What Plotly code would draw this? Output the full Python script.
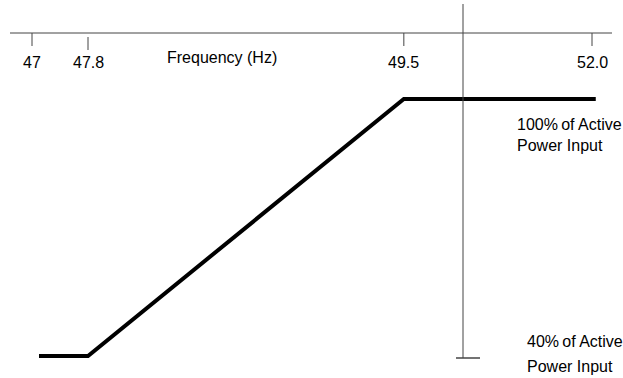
import numpy as np
import plotly.graph_objects as go

# ---- data ----
freq_ticks = [47.0, 47.8, 49.5, 52.0]
tick_labels = ["47", "47.8", "49.5", "52.0"]
line_freq = [47.1, 47.8, 49.5, 52.05]
line_power = [40, 40, 100, 100]
power_levels = [100, 40]
axis_title = "Frequency (Hz)"

# ---- layout constants (schematic, not-to-scale frequency axis) ----
W, H = 623, 378
tick_spots = [0.0, 0.1, 0.664, 1.0]  # schematic placement of the ticks along the axis


def pos(f):
    if f < freq_ticks[0]:
        return tick_spots[0] + (f - freq_ticks[0]) * (tick_spots[1] - tick_spots[0]) / (freq_ticks[1] - freq_ticks[0])
    if f > freq_ticks[-1]:
        return tick_spots[-1] + (f - freq_ticks[-1]) * (tick_spots[-1] - tick_spots[-2]) / (freq_ticks[-1] - freq_ticks[-2])
    return float(np.interp(f, freq_ticks, tick_spots))


def py(p):
    return 1 - p / H


def px(p):
    return p / W


line_x = [pos(f) for f in line_freq]
tick_x = [pos(f) for f in freq_ticks]

font = dict(family="Liberation Sans, Arial, sans-serif", size=16, color="#000")
lab_font = dict(family="Liberation Sans, Arial, sans-serif", size=16, color="#000")
axis_col = "#444"

fig = go.Figure()
fig.add_trace(go.Scatter(x=line_x, y=line_power, mode="lines",
                         line=dict(color="black", width=4), hoverinfo="skip"))

shapes = []
# horizontal frequency axis
shapes.append(dict(type="line", xref="paper", yref="paper", x0=px(10), x1=px(612),
                   y0=py(33), y1=py(33), line=dict(color=axis_col, width=1)))
# ticks
tick_top = [33, 37, 33, 33]
for tx, tt in zip(tick_x, tick_top):
    shapes.append(dict(type="line", xref="x", yref="paper", x0=tx, x1=tx,
                       y0=py(tt), y1=py(tt + 13), line=dict(color=axis_col, width=1)))
# vertical power axis
shapes.append(dict(type="line", xref="paper", yref="paper", x0=px(463), x1=px(463),
                   y0=py(4), y1=py(358), line=dict(color=axis_col, width=1)))
shapes.append(dict(type="line", xref="paper", yref="paper", x0=px(456), x1=px(480),
                   y0=py(358), y1=py(358), line=dict(color=axis_col, width=1.5)))

annotations = []
for tx, lab in zip(tick_x, tick_labels):
    annotations.append(dict(x=tx, y=py(63), xref="x", yref="paper", text=lab,
                            showarrow=False, xanchor="center", yanchor="middle", font=font))
annotations.append(dict(x=px(222), y=py(57), xref="paper", yref="paper", text=axis_title,
                        showarrow=False, xanchor="center", yanchor="middle", font=font))

# level labels
p_hi, p_lo = power_levels
annotations.append(dict(x=px(515), y=py(114), xref="paper", yref="paper",
                        text=f"{p_hi}%\u2009of Active<br>Power Input", showarrow=False,
                        xanchor="left", yanchor="top", align="left", font=lab_font))
annotations.append(dict(x=px(525), y=py(341), xref="paper", yref="paper",
                        text=f"{p_lo}%\u2009of Active", showarrow=False,
                        xanchor="left", yanchor="middle", font=lab_font))
annotations.append(dict(x=px(525), y=py(366), xref="paper", yref="paper",
                        text="Power Input", showarrow=False,
                        xanchor="left", yanchor="middle", font=lab_font))

fig.update_layout(
    width=W, height=H, margin=dict(l=0, r=0, t=0, b=0),
    paper_bgcolor="white", plot_bgcolor="white", showlegend=False,
    xaxis=dict(range=[-32 / 560, 591 / 560], visible=False, fixedrange=True),
    yaxis=dict(range=[40 - 22 * 60 / 257, 40 + 356 * 60 / 257], visible=False, fixedrange=True),
    shapes=shapes, annotations=annotations,
)
fig.write_html("out.html", config={"displayModeBar": False},
               post_script="document.body.style.margin='0';document.body.style.overflow='hidden';")
